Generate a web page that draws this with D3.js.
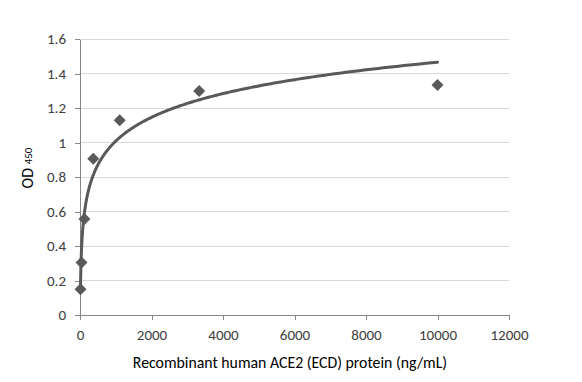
<!DOCTYPE html>
<html><head><meta charset="utf-8">
<script src="https://cdn.jsdelivr.net/npm/d3@7"></script>
<style>body{margin:0;background:#fff}svg{display:block}text{font-family:Carlito,Calibri,"Open Sans",sans-serif}</style>
</head><body><svg id="c" width="582" height="382"></svg>
<script>
const concentrations = [13.7, 41.2, 123.5, 370.4, 1111.1, 3333.3, 10000];
const odValues = [0.149, 0.305, 0.556, 0.906, 1.129, 1.298, 1.333];
const xTicks = [0, 2000, 4000, 6000, 8000, 10000, 12000];
const yTicks = [0, 0.2, 0.4, 0.6, 0.8, 1, 1.2, 1.4, 1.6];
const xTitle = "Recombinant human ACE2 (ECD) protein (ng/mL)";

const svg = d3.select("#c");
const m = {l:80, r:73, t:39, b:67};
const W = 582, H = 382;
const x = d3.scaleLinear().domain([0, 12000]).range([m.l, W - m.r]);
const y = d3.scaleLinear().domain([0, 1.6]).range([H - m.b, m.t]);

// grid
svg.append("g").selectAll("line").data(yTicks.slice(1)).join("line")
  .attr("x1", x(0)).attr("x2", x(12000)).attr("y1", d=>y(d)).attr("y2", d=>y(d))
  .attr("stroke", "#d9d9d9").attr("stroke-width", 1).attr("shape-rendering","crispEdges");

const fmt = d => d3.format("~g")(d);
const xa = svg.append("g").attr("transform", `translate(0,${y(0)})`)
  .call(d3.axisBottom(x).tickValues(xTicks).tickSize(5).tickSizeOuter(0).tickPadding(9).tickFormat(d=>String(d)));
const ya = svg.append("g").attr("transform", `translate(${x(0)},0)`)
  .call(d3.axisLeft(y).tickValues(yTicks).tickSize(5).tickSizeOuter(0).tickPadding(9).tickFormat(fmt));
[xa, ya].forEach(a => {
  a.select(".domain").attr("stroke", "#868686").attr("shape-rendering","crispEdges");
  a.selectAll(".tick line").attr("stroke", "#868686").attr("shape-rendering","crispEdges");
  a.selectAll(".tick text").attr("fill", "#404040").style("font-size", "15px");
});

// logarithmic trendline (least squares on ln x)
const lx = concentrations.map(Math.log);
const mx = d3.mean(lx), my = d3.mean(odValues);
const a = d3.sum(lx.map((v,i)=>(v-mx)*(odValues[i]-my))) / d3.sum(lx.map(v=>(v-mx)**2));
const b = my - a*mx;
const xmin = d3.min(concentrations), xmax = d3.max(concentrations);
const pts = d3.range(0, 401).map(i => Math.exp(Math.log(xmin) + (Math.log(xmax)-Math.log(xmin))*i/400));
svg.append("path").datum(pts)
  .attr("d", d3.line().x(d=>x(d)).y(d=>y(a*Math.log(d)+b)))
  .attr("fill","none").attr("stroke","#595959").attr("stroke-width",3).attr("stroke-linecap","round");

// markers
svg.append("g").selectAll("path").data(concentrations).join("path")
  .attr("transform", (d,i)=>`translate(${x(d)},${y(odValues[i])})`)
  .attr("d", "M0,-6L6,0L0,6L-6,0Z").attr("fill", "#595959");

// titles
svg.append("text").attr("x", 290).attr("y", 368).attr("text-anchor","middle")
  .style("font-size","15.8px").attr("fill","#000").text(xTitle);
const yt = svg.append("text").attr("transform", `translate(33,168) rotate(-90)`).attr("text-anchor","middle")
  .style("font-size","16px").attr("fill","#000");
yt.append("tspan").text("OD ");
yt.append("tspan").style("font-size","11px").attr("dy", -1).text("450");
</script></body></html>
